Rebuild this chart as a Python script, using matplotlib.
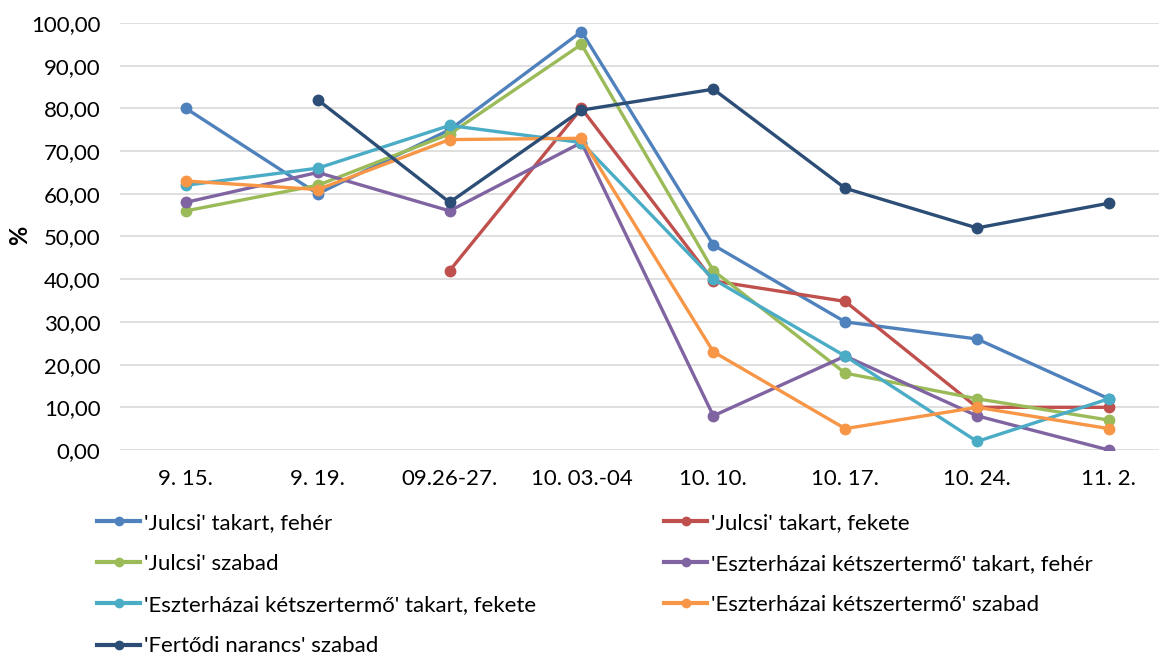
import matplotlib
matplotlib.use("Agg")
import matplotlib.pyplot as plt
import numpy as np

categories = ["9. 15.", "9. 19.", "09.26-27.", "10. 03.-04", "10. 10.", "10. 17.", "10. 24.", "11. 2."]

julcsi_takart_feher = [80, 60, 75, 98, 48, 30, 26, 12]
julcsi_takart_fekete = [np.nan, np.nan, 42, 80, 39.6, 34.8, 10, 10]
julcsi_szabad = [56, 62, 74, 95, 42, 18, 12, 7]
eszt_takart_feher = [58, 65, 56, 72, 8, 22, 8, 0]
eszt_takart_fekete = [62, 66, 76, 72, 40, 22, 2, 12]
eszt_szabad = [63, 61, 72.7, 73, 23, 5, 10, 5]
fertodi_szabad = [np.nan, 82, 58, 79.6, 84.5, 61.3, 52, 57.8]

series_names = [
    "'Julcsi' takart, fehér",
    "'Julcsi' takart, fekete",
    "'Julcsi' szabad",
    "'Eszterházai kétszertermő' takart, fehér",
    "'Eszterházai kétszertermő' takart, fekete",
    "'Eszterházai kétszertermő' szabad",
    "'Fertődi narancs' szabad",
]
series_values = [julcsi_takart_feher, julcsi_takart_fekete, julcsi_szabad,
                 eszt_takart_feher, eszt_takart_fekete, eszt_szabad, fertodi_szabad]
colors = ["#4F81BD", "#C0504D", "#9BBB59", "#8064A2", "#4BACC6", "#F79646", "#2C4D75"]

plt.rcParams['font.family'] = ['Lato', 'DejaVu Sans']

fig = plt.figure(figsize=(11.59, 6.57), dpi=100)
ax = fig.add_axes([120/1159, 1-450/657, 1-120/1159, (450-23)/657])

x = np.arange(len(categories))
handles = []
for name, vals, c in zip(series_names, series_values, colors):
    h, = ax.plot(x, vals, color=c, lw=2.4, marker='o', markersize=7.5, label=name, zorder=3)
    handles.append(h)

ax.set_ylim(0, 100)
ax.set_xlim(-0.5, 7.38)
ax.set_yticks(np.arange(0, 101, 10))
ax.set_yticklabels([f"{v:.2f}".replace('.', ',') for v in np.arange(0, 101, 10)], fontsize=16)
ax.set_xticks(x)
ax.set_xticklabels(categories, fontsize=16)
ax.tick_params(axis='x', length=0, pad=14)
ax.tick_params(axis='y', length=0, pad=14)
for s in ax.spines.values():
    s.set_visible(False)
ax.grid(axis='y', color='#D9D9D9', lw=1.2, zorder=0)
ax.set_axisbelow(True)

fig.text(20/1159, 1-235/657, "%", rotation=90, fontsize=17, fontweight='bold', ha='center', va='center')

leg_kw = dict(loc='upper left', frameon=False, fontsize=16, handlelength=1.95,
              handletextpad=0.15, labelspacing=0.95, borderaxespad=0, borderpad=0)
left_idx = [0, 2, 4, 6]
right_idx = [1, 3, 5]
leg1 = fig.legend([handles[i] for i in left_idx], [series_names[i] for i in left_idx],
                  bbox_to_anchor=(97/1159, 1-513/657), **leg_kw)
leg2 = fig.legend([handles[i] for i in right_idx], [series_names[i] for i in right_idx],
                  bbox_to_anchor=(664/1159, 1-513/657), **leg_kw)
for leg in (leg1, leg2):
    for lh in leg.legend_handles:
        lh.set_markersize(6)
        lh.set_linewidth(3)

fig.savefig("out.png", dpi=100)
